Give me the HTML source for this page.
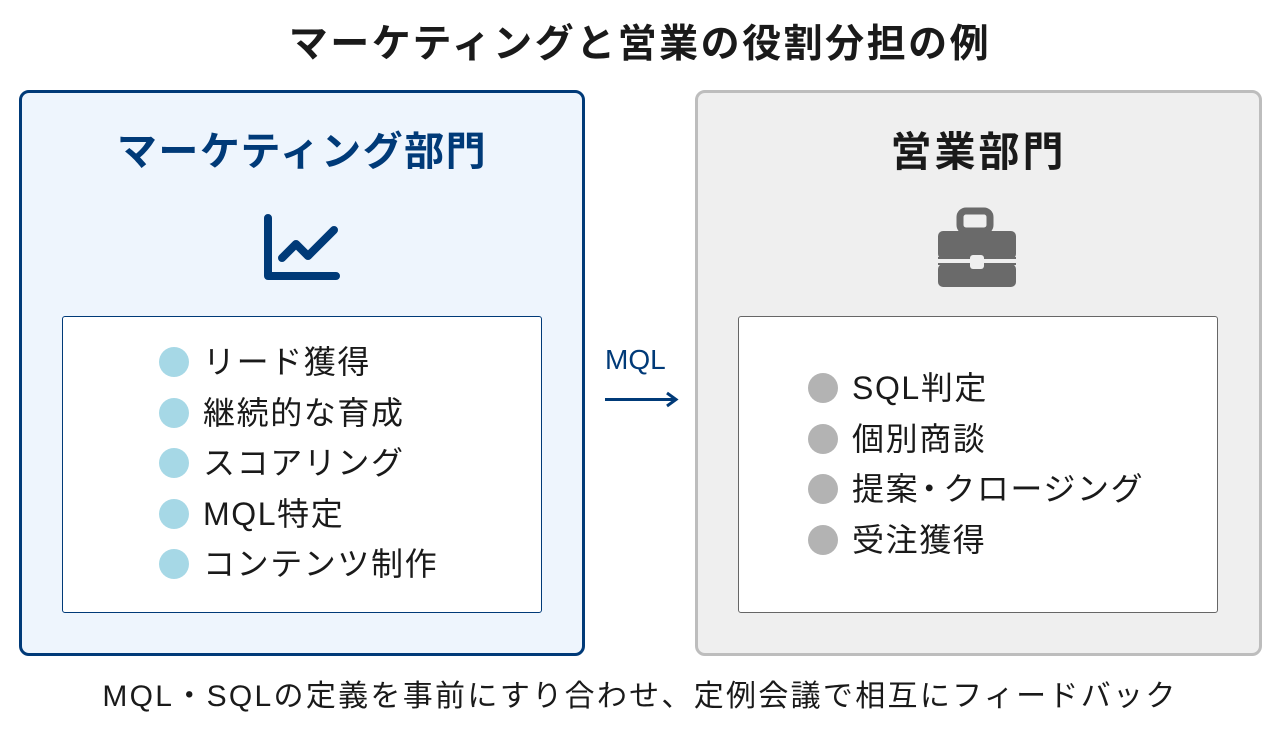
<!DOCTYPE html>
<html><head><meta charset="utf-8"><style>
body{margin:0;width:1280px;height:730px;background:#fff;position:relative;overflow:hidden;font-family:"Liberation Sans","Noto Sans CJK JP",sans-serif;color:#1a1a1a}
.a{position:absolute}
.title{left:0;width:1280px;top:18px;text-align:center;font-size:39px;letter-spacing:2.5px;font-weight:bold;line-height:54px}
.box{box-sizing:border-box;border-radius:10px;border:3px solid}
.inner{box-sizing:border-box;background:#fff;border:1px solid;border-radius:3px}
.h{font-size:40px;font-weight:bold;text-align:center;line-height:50px;letter-spacing:1.5px}
.li{font-size:32px;line-height:40px;white-space:nowrap;letter-spacing:1.6px}
.dot{display:inline-block;width:30px;height:30px;border-radius:50%;vertical-align:-4px;margin-right:14px}
.nd{letter-spacing:-8px;margin-left:-6px;margin-right:6px}
</style></head><body>
<div class="a title">マーケティングと営業の役割分担の例</div>

<div class="a box" style="left:19px;top:90px;width:566px;height:566px;border-color:#003a78;background:#eef5fd"></div>
<div class="a h" style="left:19px;width:566px;top:127px;color:#003a78">マーケティング部門</div>
<svg class="a" style="left:258px;top:210px" width="90" height="80"><path d="M10 8 V66 H78" fill="none" stroke="#003a78" stroke-width="8" stroke-linecap="round" stroke-linejoin="round"/><path d="M24 48 L38 34 L50 46 L76 20" fill="none" stroke="#003a78" stroke-width="8" stroke-linecap="round" stroke-linejoin="round"/></svg>
<div class="a inner" style="left:62px;top:316px;width:480px;height:297px;border-color:#003a78"></div>
<div class="a" style="left:159px;top:342px">
<div class="li"><span class="dot" style="background:#a6d8e6"></span>リード獲得</div>
<div class="li" style="margin-top:10.5px"><span class="dot" style="background:#a6d8e6"></span>継続的な育成</div>
<div class="li" style="margin-top:10.5px"><span class="dot" style="background:#a6d8e6"></span>スコアリング</div>
<div class="li" style="margin-top:10.5px"><span class="dot" style="background:#a6d8e6"></span>MQL特定</div>
<div class="li" style="margin-top:10.5px"><span class="dot" style="background:#a6d8e6"></span>コンテンツ制作</div>
</div>

<div class="a" style="left:605px;top:342px;font-size:28px;color:#003a78;line-height:36px">MQL</div>
<svg class="a" style="left:603px;top:390px" width="76" height="20"><path d="M2 9.5 H72" stroke="#003a78" stroke-width="3"/><path d="M64 3 L73 9.5 L64 16" fill="none" stroke="#003a78" stroke-width="3"/></svg>

<div class="a box" style="left:695px;top:90px;width:567px;height:566px;border-color:#bdbdbd;background:#efefef"></div>
<div class="a h" style="left:695px;width:567px;top:127px;color:#1a1a1a;font-size:41px;letter-spacing:3px">営業部門</div>
<svg class="a" style="left:936px;top:207px" width="84" height="80"><rect x="24" y="4" width="30" height="20" rx="6" fill="none" stroke="#6a6a6a" stroke-width="7"/><rect x="2" y="24" width="78" height="28" rx="5" fill="#6a6a6a"/><rect x="2" y="57" width="78" height="23" rx="5" fill="#6a6a6a"/><rect x="2" y="50" width="78" height="8" fill="#6a6a6a"/><rect x="2" y="52" width="78" height="4" fill="#efefef"/><rect x="34" y="48" width="14" height="14" rx="3" fill="#efefef"/></svg>
<div class="a inner" style="left:738px;top:316px;width:480px;height:297px;border-color:#666"></div>
<div class="a" style="left:808px;top:368px">
<div class="li"><span class="dot" style="background:#b3b3b3"></span>SQL判定</div>
<div class="li" style="margin-top:10.5px"><span class="dot" style="background:#b3b3b3"></span>個別商談</div>
<div class="li" style="margin-top:10.5px"><span class="dot" style="background:#b3b3b3"></span>提案<span class="nd">・</span>クロージング</div>
<div class="li" style="margin-top:10.5px"><span class="dot" style="background:#b3b3b3"></span>受注獲得</div>
</div>

<div class="a" style="left:0;width:1280px;top:676px;text-align:center;font-size:30px;line-height:42px;letter-spacing:2.3px">MQL・SQLの定義を事前にすり合わせ、定例会議で相互にフィードバック</div>
</body></html>
